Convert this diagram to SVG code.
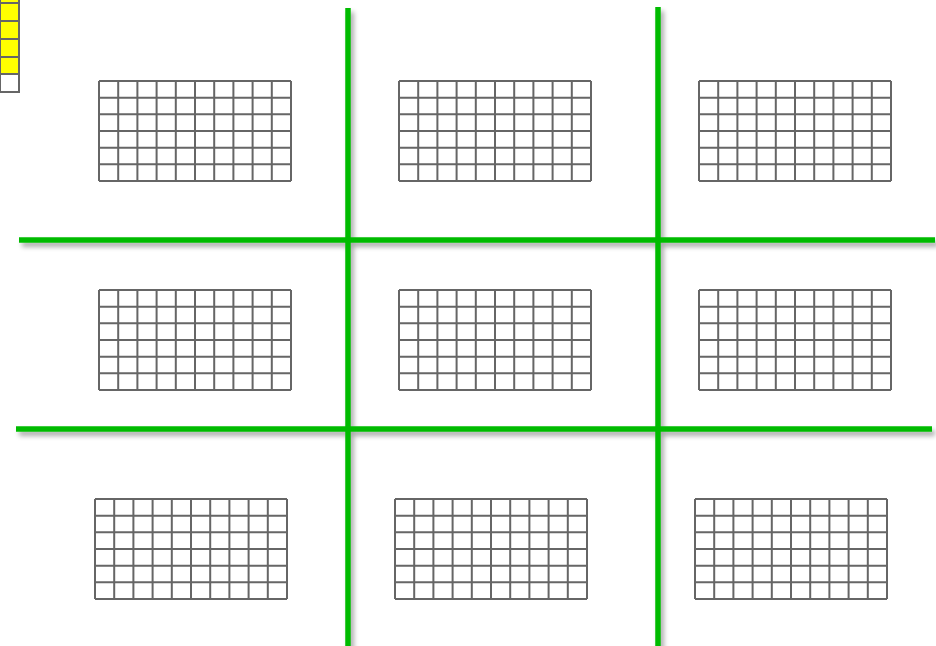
<svg xmlns="http://www.w3.org/2000/svg" width="936" height="646" viewBox="0 0 936 646">
<defs>
<style>
.cell{fill:#ffffff;stroke:#666666;stroke-width:2}
.y{fill:#ffff00;stroke:#666666;stroke-width:2}
.w{fill:#ffffff;stroke:#666666;stroke-width:2}
.g{stroke:#00bb00;stroke-width:5.5;fill:none}
</style>
<filter id="sh" x="-10%" y="-10%" width="120%" height="130%">
<feGaussianBlur in="SourceAlpha" stdDeviation="2.5"/>
<feOffset dx="3" dy="4" result="b"/>
<feComponentTransfer><feFuncA type="linear" slope="0.35"/></feComponentTransfer>
<feMerge><feMergeNode/><feMergeNode in="SourceGraphic"/></feMerge>
</filter>
<pattern id="grid" x="0" y="0" width="19.2" height="16.67" patternUnits="userSpaceOnUse">
<path d="M0 0 H19.2 M0 0 V16.67" stroke="#666666" stroke-width="2" fill="none"/>
</pattern>
<g id="gridTpl">
<rect x="0" y="0" width="192" height="100" fill="#ffffff"/>
<g stroke="#666666" stroke-width="2" fill="none">
<path d="M0 0H192M0 16.67H192M0 33.33H192M0 50H192M0 66.67H192M0 83.33H192M0 100H192"/>
<path d="M0 0V100M19.2 0V100M38.4 0V100M57.6 0V100M76.8 0V100M96 0V100M115.2 0V100M134.4 0V100M153.6 0V100M172.8 0V100M192 0V100"/>
</g>
</g>
</defs>
<rect width="936" height="646" fill="#ffffff"/>
<g id="legend">
<rect class="y" x="0" y="-15" width="19" height="18"/>
<rect class="y" x="0" y="3" width="19" height="18"/>
<rect class="y" x="0" y="21" width="19" height="18"/>
<rect class="y" x="0" y="39" width="19" height="18"/>
<rect class="y" x="0" y="57" width="19" height="17"/>
<rect class="w" x="0" y="74" width="19" height="18"/>
</g>
<g id="grid-r1c1"><use href="#gridTpl" x="99" y="81"/></g>
<g id="grid-r1c2"><use href="#gridTpl" x="399" y="81"/></g>
<g id="grid-r1c3"><use href="#gridTpl" x="699" y="81"/></g>
<g id="grid-r2c1"><use href="#gridTpl" x="99" y="290"/></g>
<g id="grid-r2c2"><use href="#gridTpl" x="399" y="290"/></g>
<g id="grid-r2c3"><use href="#gridTpl" x="699" y="290"/></g>
<g id="grid-r3c1"><use href="#gridTpl" x="95" y="499"/></g>
<g id="grid-r3c2"><use href="#gridTpl" x="395" y="499"/></g>
<g id="grid-r3c3"><use href="#gridTpl" x="695" y="499"/></g>
<g id="connectors" filter="url(#sh)">
<line class="g" x1="348" y1="8" x2="348" y2="650"/>
<line class="g" x1="658" y1="7" x2="658" y2="650"/>
<line class="g" x1="19" y1="240" x2="935" y2="240"/>
<line class="g" x1="16" y1="429" x2="932" y2="429"/>
</g>
</svg>
